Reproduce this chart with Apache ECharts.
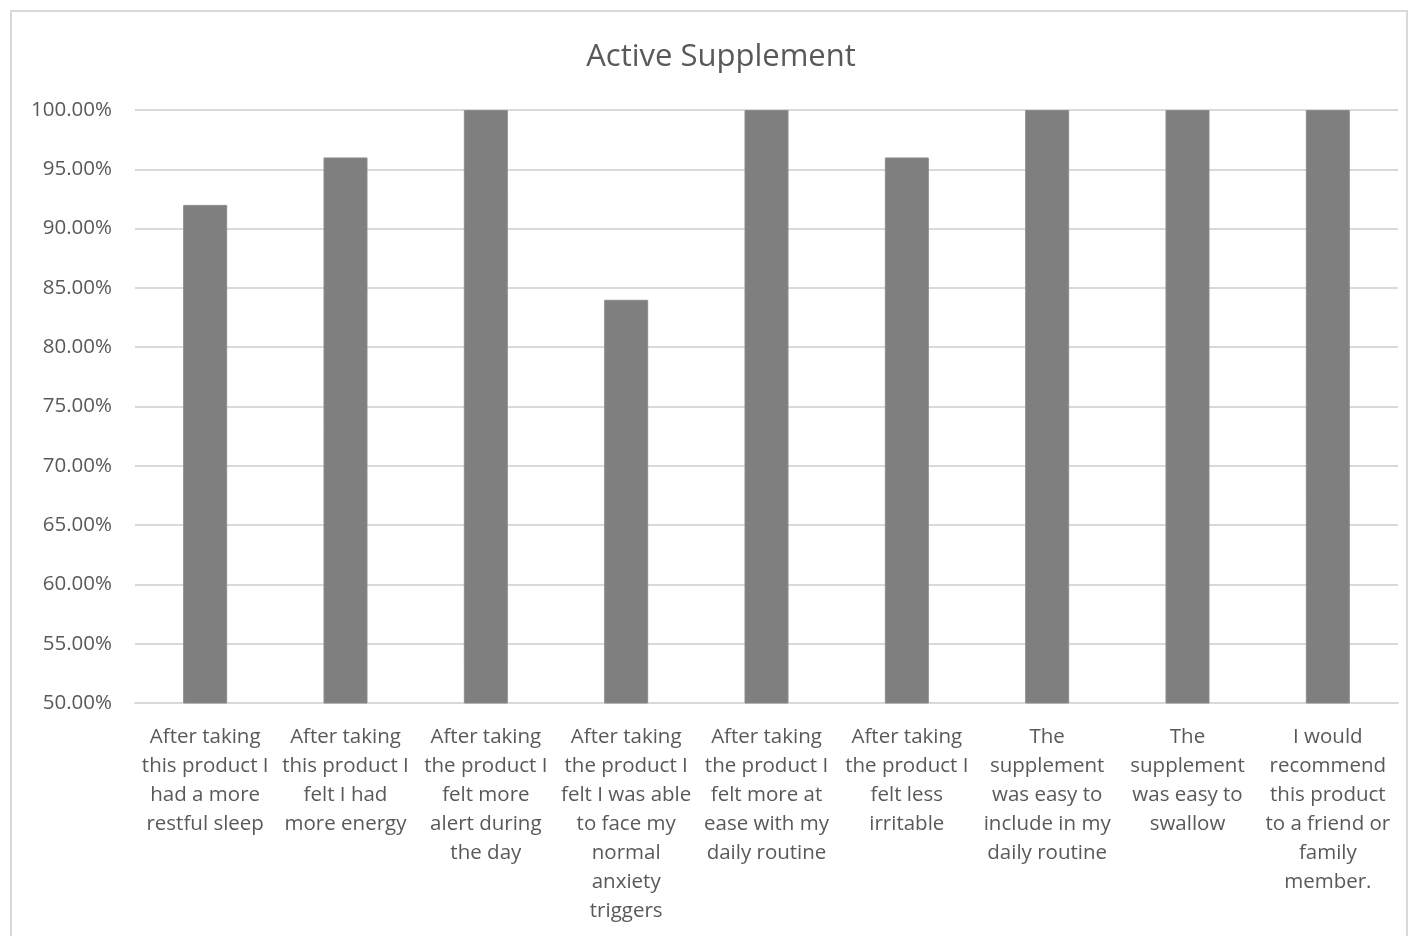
<!DOCTYPE html>
<html>
<head>
<meta charset="utf-8">
<script src="https://cdn.jsdelivr.net/npm/echarts@6/dist/echarts.min.js"></script>
<style>
  html, body { margin: 0; padding: 0; background: #fff; }
  #frame { position: absolute; left: 10px; top: 10px; width: 1398px; height: 940px; border: 2px solid #d9d9d9; box-sizing: border-box; }
  #chart { position: absolute; left: 0; top: 0; width: 1410px; height: 936px; }
</style>
</head>
<body>
<div id="frame"></div>
<div id="chart"></div>
<script>
// Survey statements (wrapped as shown under each bar)
const categories = [
  'After taking\nthis product I\nhad a more\nrestful sleep',
  'After taking\nthis product I\nfelt I had\nmore energy',
  'After taking\nthe product I\nfelt more\nalert during\nthe day',
  'After taking\nthe product I\nfelt I was able\nto face my\nnormal\nanxiety\ntriggers',
  'After taking\nthe product I\nfelt more at\nease with my\ndaily routine',
  'After taking\nthe product I\nfelt less\nirritable',
  'The\nsupplement\nwas easy to\ninclude in my\ndaily routine',
  'The\nsupplement\nwas easy to\nswallow',
  'I would\nrecommend\nthis product\nto a friend or\nfamily\nmember.'
];
// Share of respondents agreeing
const values = [0.92, 0.96, 1.00, 0.84, 1.00, 0.96, 1.00, 1.00, 1.00];
const yMin = 0.5, yMax = 1.0, yStep = 0.05;

const chart = echarts.init(document.getElementById('chart'), null, { renderer: 'canvas' });
const font = 'Open Sans, Lato, sans-serif';
chart.setOption({
  animation: false,
  title: {
    text: 'Active Supplement',
    left: 716,
    textAlign: 'center',
    top: 37,
    textStyle: { fontFamily: font, fontSize: 31, fontWeight: 'normal', color: '#595959' }
  },
  grid: { left: 135, right: 12, top: 110, bottom: 233, containLabel: false },
  xAxis: {
    type: 'category',
    data: categories,
    axisLine: { show: true, lineStyle: { color: '#d9d9d9', width: 2 } },
    axisTick: { show: false },
    axisLabel: {
      interval: 0,
      margin: 20,
      fontFamily: font,
      fontSize: 20.5,
      lineHeight: 29,
      color: '#595959',
      align: 'center',
      verticalAlign: 'top'
    }
  },
  yAxis: {
    type: 'value',
    min: yMin,
    max: yMax,
    interval: yStep,
    axisLine: { show: false },
    axisTick: { show: false },
    splitLine: { lineStyle: { color: '#d9d9d9', width: 2 } },
    axisLabel: {
      margin: 23,
      fontFamily: font,
      fontSize: 20.5,
      color: '#595959',
      formatter: v => (v * 100).toFixed(2) + '%'
    }
  },
  series: [{
    type: 'bar',
    data: values,
    barWidth: 44,
    itemStyle: { color: '#7f7f7f', borderColor: '#8c8c8c', borderWidth: 1 }
  }]
});
</script>
</body>
</html>
